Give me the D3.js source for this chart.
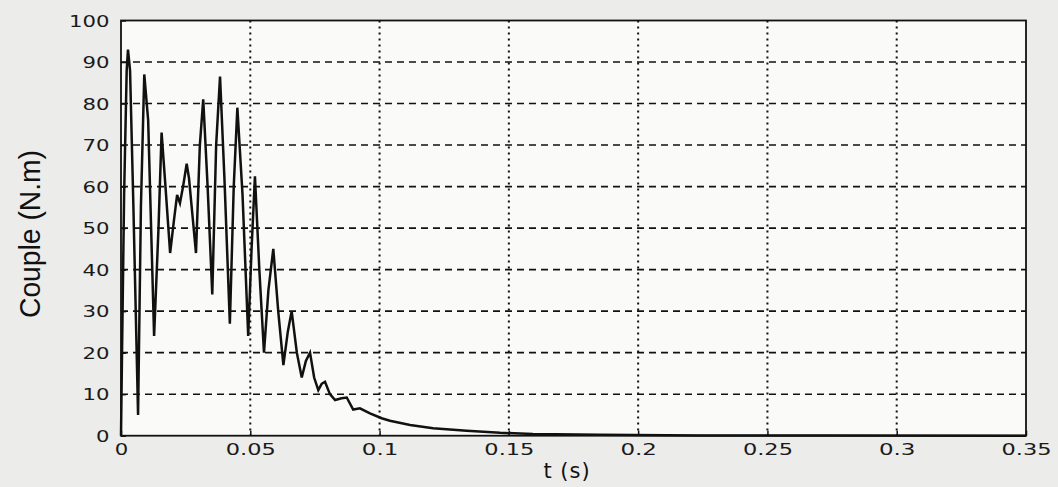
<!DOCTYPE html>
<html><head><meta charset="utf-8">
<script src="https://cdn.jsdelivr.net/npm/d3@7"></script>
<style>body{margin:0;background:#ececea;} svg{display:block;}</style>
</head><body>
<svg id="c" width="1058" height="487"></svg>
<script>
const tValues = [0,0.0004,0.0012,0.0022,0.0027,0.0035,0.0048,0.0066,0.0077,0.0090,0.0105,0.0128,0.0145,0.0157,0.0172,0.0190,0.0205,0.0217,0.0228,0.0240,0.0254,0.0263,0.0275,0.0290,0.0305,0.0318,0.0335,0.0353,0.0368,0.0383,0.0400,0.0421,0.0436,0.0450,0.0470,0.0492,0.0505,0.0518,0.0535,0.0553,0.0570,0.0589,0.0608,0.0628,0.0645,0.0660,0.0680,0.0699,0.0715,0.0731,0.0747,0.0763,0.0776,0.0789,0.0808,0.0828,0.0853,0.0873,0.0898,0.0924,0.0963,0.1008,0.1040,0.1118,0.1207,0.1337,0.1466,0.1593,0.1852,0.2239,0.2700,0.3500];
const couple  = [0,20,58,88,93,88,55,5,55,87,76,24,50,73,60,44,52,58,56,60,65.5,62,54,44,70,81,60,34,70,86.5,62,27,60,79,58,24,45,62.5,40,20,35,45,30,17,25,30,20,14,18,20,14,11,12.5,13,10,8.6,9,9.2,6.3,6.6,5.4,4.2,3.6,2.6,1.8,1.2,0.7,0.4,0.2,0.05,0.02,0];
const xTicks = [0,0.05,0.1,0.15,0.2,0.25,0.3,0.35];
const xTickLabels = ["0","0.05","0.1","0.15","0.2","0.25","0.3","0.35"];
const yTicks = [0,10,20,30,40,50,60,70,80,90,100];
const yTickLabels = ["0","10","20","30","40","50","60","70","80","90","100"];
const xLabel = "t (s)";
const yLabel = "Couple (N.m)";

const svg = d3.select("#c");
const L = 121, R = 1026, T = 20.5, B = 435.7;
const x = d3.scaleLinear().domain([0,0.35]).range([L,R]);
const y = d3.scaleLinear().domain([0,100]).range([B,T]);

svg.append("rect").attr("width",1058).attr("height",487).attr("fill","#ececea");
svg.append("rect").attr("x",L).attr("y",T).attr("width",R-L).attr("height",B-T).attr("fill","#fafaf8");

// grid
svg.append("g").selectAll("line").data(yTicks.slice(1,-1)).join("line")
  .attr("x1",L).attr("x2",R).attr("y1",d=>y(d)).attr("y2",d=>y(d))
  .attr("stroke","#111").attr("stroke-width",1.6).attr("stroke-dasharray","7,5");
svg.append("g").selectAll("line").data(xTicks.slice(1,-1)).join("line")
  .attr("x1",d=>x(d)).attr("x2",d=>x(d)).attr("y1",T).attr("y2",B)
  .attr("stroke","#111").attr("stroke-width",2).attr("stroke-dasharray","2,4");

// axes
const ya = svg.append("g").attr("transform",`translate(${L},0)`)
  .call(d3.axisLeft(y).tickValues(yTicks).tickFormat((d,i)=>yTickLabels[i]).tickSizeInner(-5).tickSizeOuter(0).tickPadding(12));
const xa = svg.append("g").attr("transform",`translate(0,${B})`)
  .call(d3.axisBottom(x).tickValues(xTicks).tickFormat((d,i)=>xTickLabels[i]).tickSizeInner(-5).tickSizeOuter(0).tickPadding(9));
const labW = s => s.split("").reduce((a,c)=>a+(c==="."?9.5:13.5),0);
[ya,xa].forEach(a=>{
  a.select(".domain").remove();
  a.selectAll(".tick line").attr("stroke","#111").attr("stroke-width",1.5);
  a.selectAll("text").attr("font-family","'DejaVu Sans',sans-serif").attr("font-size",15)
    .attr("fill","#1a1a1a")
    .attr("textLength",function(){return labW(this.textContent);})
    .attr("lengthAdjust","spacingAndGlyphs");
});
ya.selectAll("text").attr("x",-11.5).attr("dy","0.37em");
xa.selectAll("text").attr("y",9).attr("dy","0.71em");

// line
const line = d3.line().x((d,i)=>x(tValues[i])).y(d=>y(d));
svg.append("path").datum(couple).attr("d",line).attr("fill","none")
  .attr("stroke","#111").attr("stroke-width",2.5).attr("stroke-linejoin","miter");

// frame
svg.append("rect").attr("x",L).attr("y",T).attr("width",R-L).attr("height",B-T)
  .attr("fill","none").attr("stroke","#111").attr("stroke-width",1.8);

// labels
svg.append("text").attr("x",567).attr("y",478).attr("text-anchor","middle")
  .attr("font-family","'DejaVu Sans',sans-serif").attr("font-size",21).attr("letter-spacing","1px")
  .attr("fill","#111").text(xLabel);
svg.append("text").attr("transform","translate(40,234) rotate(-90)").attr("text-anchor","middle")
  .attr("font-family","'Liberation Sans Narrow','Liberation Sans',sans-serif").attr("font-size",30)
  .attr("textLength",168).attr("lengthAdjust","spacingAndGlyphs")
  .attr("fill","#111").text(yLabel);
</script>
</body></html>
